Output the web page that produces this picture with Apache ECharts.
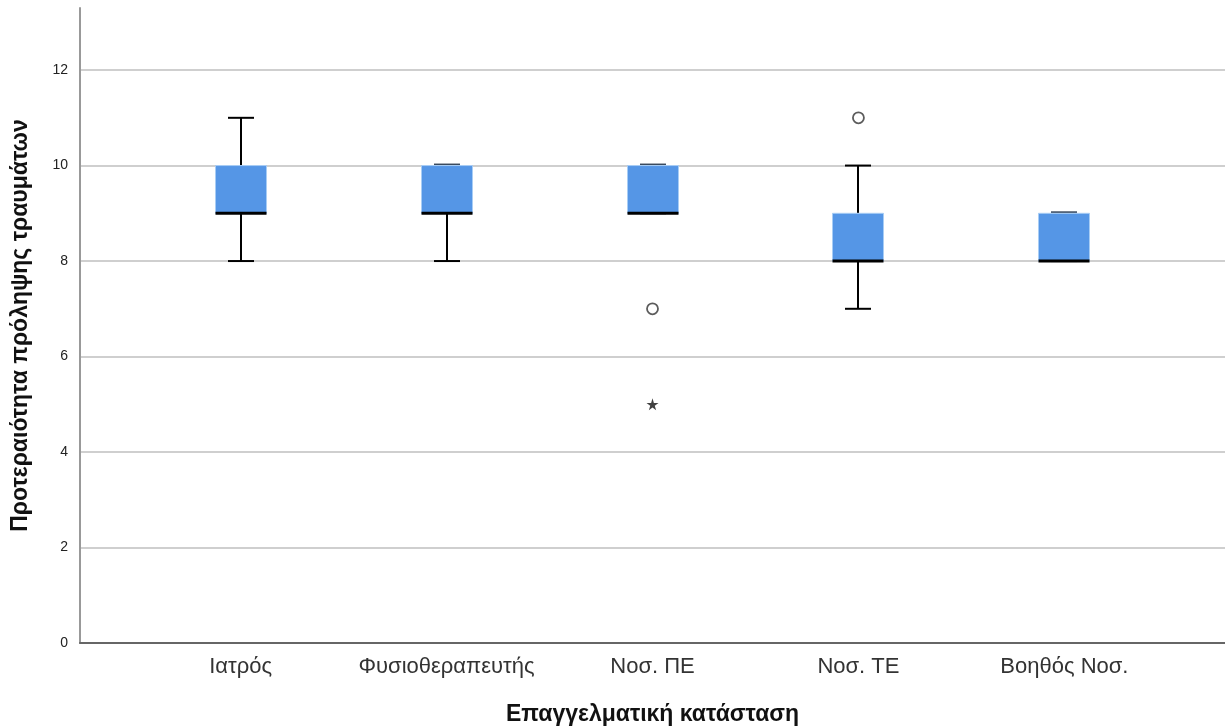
<!DOCTYPE html>
<html>
<head>
<meta charset="utf-8">
<script src="https://cdn.jsdelivr.net/npm/echarts@6/dist/echarts.min.js"></script>
<style>
  html, body { margin: 0; padding: 0; background: #fff; }
  #chart { width: 1225px; height: 728px; }
</style>
</head>
<body>
<div id="chart"></div>
<script>
// Professional groups and the five-number summary of each box
const categories = ['Ιατρός', 'Φυσιοθεραπευτής', 'Νοσ. ΠΕ', 'Νοσ. ΤΕ', 'Βοηθός Νοσ.'];
const whiskerLow  = [8, 8, 9, 7, 8];
const quartile1   = [9, 9, 9, 8, 8];
const medians     = [9, 9, 9, 8, 8];
const quartile3   = [10, 10, 10, 9, 9];
const whiskerHigh = [11, 10, 10, 10, 9];
// Outliers: [group index, value]
const outliers = [[2, 7], [3, 11]];
const extremes = [[2, 5]];
const yTicks = [0, 2, 4, 6, 8, 10, 12];

const boxData = categories.map((c, i) => [i, whiskerLow[i], quartile1[i], medians[i], quartile3[i], whiskerHigh[i]]);

const BOX_W = 51, CAP_W = 26;

function renderBox(params, api) {
  const x = api.value(0);
  const pLow = api.coord([x, api.value(1)]);
  const pQ1 = api.coord([x, api.value(2)]);
  const pMed = api.coord([x, api.value(3)]);
  const pQ3 = api.coord([x, api.value(4)]);
  const pHigh = api.coord([x, api.value(5)]);
  const cx = Math.round(pQ1[0]);
  const children = [];
  const wStyle = { stroke: '#000', lineWidth: 2 };
  // whiskers
  if (pLow[1] !== pQ1[1]) {
    children.push({ type: 'line', shape: { x1: cx, y1: pQ1[1], x2: cx, y2: pLow[1] }, style: wStyle });
    children.push({ type: 'line', shape: { x1: cx - CAP_W / 2, y1: pLow[1], x2: cx + CAP_W / 2, y2: pLow[1] }, style: wStyle });
  } else {
    children.push({ type: 'line', shape: { x1: cx - CAP_W / 2, y1: pLow[1], x2: cx + CAP_W / 2, y2: pLow[1] }, style: { stroke: '#333', lineWidth: 2 } });
  }
  if (pHigh[1] !== pQ3[1]) {
    children.push({ type: 'line', shape: { x1: cx, y1: pQ3[1], x2: cx, y2: pHigh[1] }, style: wStyle });
    children.push({ type: 'line', shape: { x1: cx - CAP_W / 2, y1: pHigh[1], x2: cx + CAP_W / 2, y2: pHigh[1] }, style: wStyle });
  } else {
    children.push({ type: 'line', shape: { x1: cx - CAP_W / 2, y1: pHigh[1] - 1, x2: cx + CAP_W / 2, y2: pHigh[1] - 1 }, style: { stroke: '#3a4a5e', lineWidth: 2 } });
  }
  // box
  children.push({
    type: 'rect',
    shape: { x: cx - BOX_W / 2, y: pQ3[1], width: BOX_W, height: pQ1[1] - pQ3[1] },
    style: { fill: '#5596e6', stroke: '#a8cdf5', lineWidth: 1 }
  });
  // median
  children.push({ type: 'line', shape: { x1: cx - BOX_W / 2, y1: pMed[1], x2: cx + BOX_W / 2, y2: pMed[1] }, style: { stroke: '#000', lineWidth: 3 } });
  return { type: 'group', children };
}

const chart = echarts.init(document.getElementById('chart'), null, { renderer: 'canvas' });
chart.setOption({
  animation: false,
  backgroundColor: '#fff',
  grid: { left: 80, right: 0, top: 8, bottom: 85, containLabel: false, outerBoundsMode: 'none' },
  xAxis: {
    type: 'value',
    min: -0.78,
    max: 4.78,
    minInterval: 1,
    maxInterval: 1,
    name: 'Επαγγελματική κατάσταση',
    nameLocation: 'middle',
    nameGap: 60,
    nameTextStyle: { fontFamily: 'Liberation Sans', fontSize: 23, fontWeight: 'bold', color: '#111' },
    axisLine: { show: true, onZero: false, lineStyle: { color: '#666', width: 2 } },
    axisTick: { show: false },
    splitLine: { show: false },
    axisLabel: {
      showMinLabel: false,
      showMaxLabel: false,
      margin: 13,
      fontFamily: 'Liberation Sans',
      fontSize: 22,
      color: '#333',
      formatter: v => (Number.isInteger(v) && categories[v] !== undefined) ? categories[v] : ''
    }
  },
  yAxis: {
    type: 'value',
    min: 0,
    max: 13.3,
    interval: 2,
    name: 'Προτεραιότητα πρόληψης τραυμάτων',
    nameLocation: 'middle',
    nameGap: 48,
    nameTextStyle: { fontFamily: 'Liberation Sans', fontSize: 23, fontWeight: 'bold', color: '#111' },
    axisLine: { show: true, onZero: false, lineStyle: { color: '#999', width: 2 } },
    axisTick: { show: false },
    splitLine: { show: true, showMinLine: false, showMaxLine: false, lineStyle: { color: '#cfcfcf', width: 2 } },
    axisLabel: {
      showMaxLabel: false,
      margin: 12,
      fontFamily: 'Liberation Sans',
      fontSize: 14,
      color: '#222',
      formatter: v => yTicks.includes(v) ? String(v) : ''
    }
  },
  series: [
    {
      type: 'custom',
      renderItem: renderBox,
      data: boxData,
      encode: { x: 0, y: [1, 2, 3, 4, 5] },
      z: 3
    },
    {
      type: 'scatter',
      data: outliers,
      symbol: 'circle',
      symbolSize: 11,
      itemStyle: { color: '#fff', borderColor: '#333', borderWidth: 1.8 },
      z: 4
    },
    {
      type: 'scatter',
      data: extremes,
      symbol: 'path://M50,0 L61,35 L98,35 L68,57 L79,91 L50,70 L21,91 L32,57 L2,35 L39,35 Z',
      symbolSize: 12,
      itemStyle: { color: '#111' },
      z: 4
    }
  ]
});
</script>
</body>
</html>
